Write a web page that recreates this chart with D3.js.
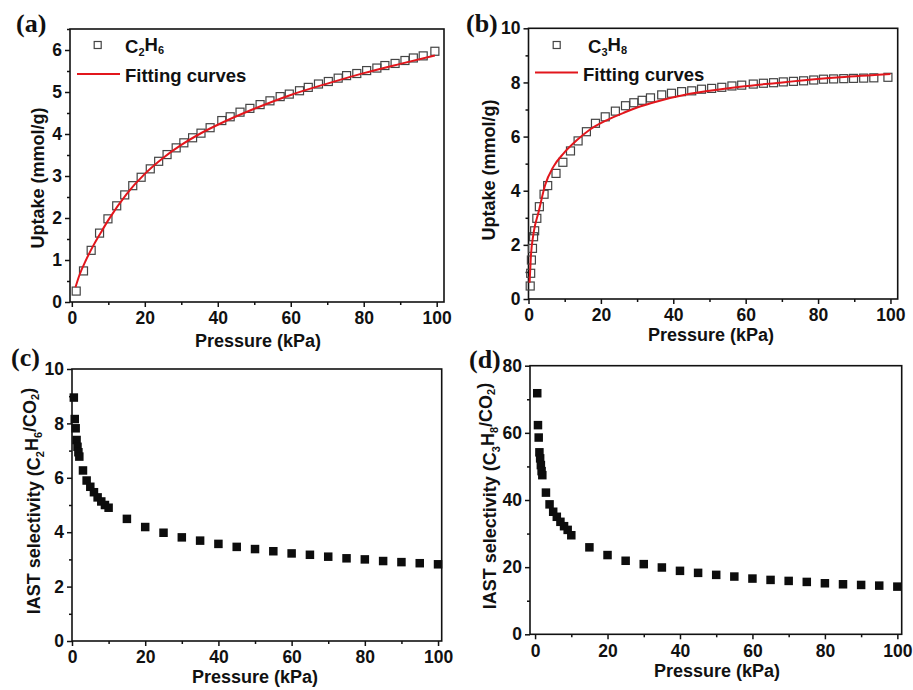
<!DOCTYPE html>
<html>
<head>
<meta charset="utf-8">
<script src="https://cdn.jsdelivr.net/npm/d3@7"></script>
<style>
  body { margin: 0; background: #fff; }
  svg { display: block; }
  .tick text { font-family: 'Liberation Sans', Arial, sans-serif; font-weight: bold; font-size: 17.5px; fill: #111; }
  .tick line { stroke: #111; stroke-width: 1.5; }
  .lbl { font-family: 'Liberation Sans', Arial, sans-serif; font-weight: bold; font-size: 18px; fill: #111; }
  .letter { font-family: 'Liberation Serif', 'Times New Roman', serif; font-weight: bold; font-size: 26px; fill: #111; }
</style>
</head>
<body>
<script>
// data
const pressureA = [1.2, 3.2, 5.3, 7.6, 9.9, 12.3, 14.5, 16.7, 19.0, 21.5, 23.8, 26.1, 28.6, 30.7, 33.1, 35.4, 37.9, 41.1, 43.4, 46.1, 48.8, 51.6, 54.3, 57.1, 59.6, 62.4, 64.8, 67.6, 70.3, 73.0, 75.3, 78.1, 80.8, 83.6, 85.8, 88.6, 91.3, 93.6, 96.3, 99.5];
const uptakeA = [0.26, 0.74, 1.23, 1.64, 1.98, 2.29, 2.55, 2.77, 2.97, 3.17, 3.35, 3.51, 3.67, 3.79, 3.91, 4.02, 4.15, 4.32, 4.41, 4.52, 4.61, 4.70, 4.79, 4.89, 4.95, 5.03, 5.11, 5.19, 5.25, 5.33, 5.39, 5.44, 5.51, 5.57, 5.63, 5.68, 5.75, 5.81, 5.86, 5.97];
const fitPressureA = [1, 2, 4, 6, 8, 10, 15, 20, 25, 30, 35, 40, 50, 60, 70, 80, 90, 99.5];
const fitUptakeA = [0.35, 0.62, 1.02, 1.36, 1.66, 1.95, 2.57, 3.05, 3.43, 3.74, 4.0, 4.22, 4.6, 4.93, 5.2, 5.45, 5.67, 5.87];

const pressureB = [0.47, 0.6, 0.8, 1.1, 1.4, 1.7, 2.3, 3.0, 4.3, 5.3, 7.6, 9.5, 11.6, 13.7, 16.0, 18.5, 21.2, 24.0, 26.8, 29.1, 31.4, 33.7, 36.8, 39.5, 42.3, 45.1, 47.8, 50.6, 53.4, 56.2, 58.9, 62.1, 64.9, 67.7, 70.4, 73.2, 76.0, 78.8, 81.5, 84.3, 87.1, 89.8, 92.6, 95.4, 99.3];
const uptakeB = [0.48, 0.95, 1.44, 1.87, 2.3, 2.52, 2.98, 3.41, 3.87, 4.19, 4.64, 5.05, 5.47, 5.84, 6.18, 6.49, 6.73, 6.94, 7.14, 7.25, 7.34, 7.43, 7.54, 7.60, 7.66, 7.69, 7.75, 7.78, 7.82, 7.87, 7.90, 7.94, 7.97, 7.99, 8.02, 8.04, 8.06, 8.09, 8.12, 8.13, 8.14, 8.15, 8.16, 8.17, 8.19];
const fitPressureB = [0.3, 0.65, 1.4, 2.8, 4.6, 6.9, 9.7, 13.4, 17.1, 21.7, 26.3, 31, 35, 44.6, 58.4, 72.3, 86.1, 100];
const fitUptakeB = [0.6, 1.56, 2.43, 3.22, 4.21, 4.89, 5.38, 5.87, 6.27, 6.61, 6.88, 7.12, 7.28, 7.58, 7.84, 8.03, 8.19, 8.31];

const pressureC = [0.5, 0.75, 1, 1.25, 1.5, 1.75, 2, 3, 4, 5, 6, 7, 8, 9, 10, 15, 20, 25, 30, 35, 40, 45, 50, 55, 60, 65, 70, 75, 80, 85, 90, 95, 100];
const selectivityC = [8.95, 8.16, 7.82, 7.39, 7.14, 6.94, 6.78, 6.27, 5.9, 5.67, 5.47, 5.28, 5.13, 5.0, 4.9, 4.49, 4.19, 3.98, 3.81, 3.69, 3.57, 3.46, 3.38, 3.30, 3.22, 3.17, 3.10, 3.04, 3.00, 2.94, 2.90, 2.86, 2.82];

const pressureD = [0.6, 0.8, 1.0, 1.2, 1.4, 1.6, 1.8, 2.0, 3, 4, 5, 6, 7, 8, 9, 10, 15, 20, 25, 30, 35, 40, 45, 50, 55, 60, 65, 70, 75, 80, 85, 90, 95, 100];
const selectivityD = [71.8, 62.3, 58.6, 54.2, 52.4, 50.4, 48.6, 47.4, 42.2, 38.7, 36.5, 35.0, 33.5, 32.2, 31.1, 29.5, 25.9, 23.6, 21.9, 20.9, 19.9, 18.9, 18.3, 17.7, 17.2, 16.6, 16.2, 15.9, 15.6, 15.2, 14.9, 14.7, 14.5, 14.2];

const xTicks = [0, 20, 40, 60, 80, 100];
const xMinor = [10, 30, 50, 70, 90];
const yTicksA = [0, 1, 2, 3, 4, 5, 6];
const yMinorA = [0.5, 1.5, 2.5, 3.5, 4.5, 5.5, 6.5];
const yTicksB = [0, 2, 4, 6, 8, 10];
const yMinorB = [1, 3, 5, 7, 9];
const yTicksC = [0, 2, 4, 6, 8, 10];
const yMinorC = [1, 3, 5, 7, 9];
const yTicksD = [0, 20, 40, 60, 80];
const yMinorD = [10, 30, 50, 70];

const width = 913;
const height = 690;
const red = '#e2161c';
const fmt = d3.format('d');

const svg = d3.select('body').append('svg').attr('width', width).attr('height', height);

// rich text: parts are [text, isSubscript]
function rich(sel, parts) {
    let sub = false;
    parts.forEach(([t, s]) => {
        const dy = s && !sub ? '0.3em' : (!s && sub ? '-0.3em' : null);
        const ts = sel.append('tspan').text(t);
        if (s) ts.style('font-size', '11px');
        if (dy) ts.attr('dy', dy);
        sub = s;
    });
    return sel;
}

function panel(p) {
    const x = d3.scaleLinear().domain(p.xDomain).range([p.left, p.right]);
    const y = d3.scaleLinear().domain(p.yDomain).range([p.bottom, p.top]);
    const g = svg.append('g');

    const xAxis = d3.axisBottom(x).tickValues(xTicks).tickFormat(fmt).tickSize(5).tickPadding(5).tickSizeOuter(0);
    const xMinorAxis = d3.axisBottom(x).tickValues(xMinor).tickSize(3).tickFormat('').tickSizeOuter(0);
    const yAxis = d3.axisLeft(y).tickValues(p.yTicks).tickFormat(fmt).tickSize(5).tickPadding(3).tickSizeOuter(0);
    const yMinorAxis = d3.axisLeft(y).tickValues(p.yMinor).tickSize(3).tickFormat('').tickSizeOuter(0);

    [[xAxis, `translate(0,${p.bottom})`], [xMinorAxis, `translate(0,${p.bottom})`],
     [yAxis, `translate(${p.left},0)`], [yMinorAxis, `translate(${p.left},0)`]].forEach(([ax, tr]) => {
        g.append('g').attr('transform', tr).call(ax).call(a => a.select('.domain').remove());
    });

    g.append('rect')
        .attr('x', p.left).attr('y', p.top)
        .attr('width', p.right - p.left).attr('height', p.bottom - p.top)
        .attr('fill', 'none').attr('stroke', '#111').attr('stroke-width', 1.6);

    g.append('text').attr('class', 'lbl').attr('text-anchor', 'middle')
        .attr('x', p.xTitlePos[0]).attr('y', p.xTitlePos[1]).attr('dy', '0.35em')
        .text('Pressure (kPa)');

    rich(g.append('text').attr('class', 'lbl').attr('text-anchor', 'middle')
        .attr('transform', `translate(${p.yTitlePos[0]},${p.yTitlePos[1]}) rotate(-90)`)
        .attr('dy', '0.35em'), p.yTitle);

    g.append('text').attr('class', 'letter').attr('x', p.letterPos[0]).attr('y', p.letterPos[1]).text(p.letter);

    return { g, x, y };
}

function openSquares(pn, xs, ys) {
    pn.g.append('g').selectAll('rect').data(xs).join('rect')
        .attr('x', d => pn.x(d) - 4).attr('y', (d, i) => pn.y(ys[i]) - 4)
        .attr('width', 8).attr('height', 8)
        .attr('fill', 'none').attr('stroke', '#444').attr('stroke-width', 1.2);
}

function filledSquares(pn, xs, ys) {
    pn.g.append('g').selectAll('rect').data(xs).join('rect')
        .attr('x', d => pn.x(d) - 4.25).attr('y', (d, i) => pn.y(ys[i]) - 4.25)
        .attr('width', 8.5).attr('height', 8.5)
        .attr('fill', '#0d0d0d');
}

function fitCurve(pn, xs, ys) {
    const line = d3.line().x(d => pn.x(d[0])).y(d => pn.y(d[1])).curve(d3.curveMonotoneX);
    pn.g.append('path').datum(xs.map((d, i) => [d, ys[i]]))
        .attr('d', line).attr('fill', 'none').attr('stroke', red).attr('stroke-width', 2);
}

function legend(pn, sq, gasParts, lineY, x0, x1, textX, fitX) {
    pn.g.append('rect').attr('x', sq[0] - 3.5).attr('y', sq[1] - 3.5).attr('width', 7).attr('height', 7)
        .attr('fill', 'none').attr('stroke', '#444').attr('stroke-width', 1.2);
    rich(pn.g.append('text').attr('class', 'lbl').attr('x', textX).attr('y', sq[1] + 8).style('font-size', '18.5px'), gasParts);
    pn.g.append('line').attr('x1', x0).attr('x2', x1).attr('y1', lineY).attr('y2', lineY)
        .attr('stroke', red).attr('stroke-width', 2);
    pn.g.append('text').attr('class', 'lbl').attr('x', fitX).attr('y', lineY + 8)
        .style('font-size', '18.5px').text('Fitting curves');
}

// (a)
const pa = panel({
    left: 70, right: 444, top: 29, bottom: 302,
    xDomain: [-0.5, 102], yDomain: [0, 6.5], yTicks: yTicksA, yMinor: yMinorA,
    xTitlePos: [258, 341], yTitlePos: [38, 178], letter: '(a)', letterPos: [16, 32],
    yTitle: [['Uptake (mmol/g)', false]]
});
openSquares(pa, pressureA, uptakeA);
fitCurve(pa, fitPressureA, fitUptakeA);
legend(pa, [97.7, 45], [['C', false], ['2', true], ['H', false], ['6', true]], 74, 77, 120, 125, 125);

// (b)
const pb = panel({
    left: 528.5, right: 897.7, top: 28.3, bottom: 299,
    xDomain: [0, 102], yDomain: [0, 10], yTicks: yTicksB, yMinor: yMinorB,
    xTitlePos: [711, 335], yTitlePos: [489, 170], letter: '(b)', letterPos: [466, 32],
    yTitle: [['Uptake (mmol/g)', false]]
});
openSquares(pb, pressureB, uptakeB);
fitCurve(pb, fitPressureB, fitUptakeB);
legend(pb, [556.7, 45], [['C', false], ['3', true], ['H', false], ['8', true]], 72.5, 535, 578, 588, 583);

// (c)
const pc = panel({
    left: 72, right: 441.7, top: 369, bottom: 641,
    xDomain: [0, 101], yDomain: [0, 10], yTicks: yTicksC, yMinor: yMinorC,
    xTitlePos: [255, 677], yTitlePos: [34, 501], letter: '(c)', letterPos: [11, 366],
    yTitle: [['IAST selectivity (C', false], ['2', true], ['H', false], ['6', true], ['/CO', false], ['2', true], [')', false]]
});
filledSquares(pc, pressureC, selectivityC);

// (d)
const pd = panel({
    left: 530, right: 901.7, top: 365.7, bottom: 634.3,
    xDomain: [-1.4, 101.2], yDomain: [0, 80], yTicks: yTicksD, yMinor: yMinorD,
    xTitlePos: [717, 671], yTitlePos: [490, 496], letter: '(d)', letterPos: [469, 368],
    yTitle: [['IAST selectivity (C', false], ['3', true], ['H', false], ['8', true], ['/CO', false], ['2', true], [')', false]]
});
filledSquares(pd, pressureD, selectivityD);
</script>
</body>
</html>
